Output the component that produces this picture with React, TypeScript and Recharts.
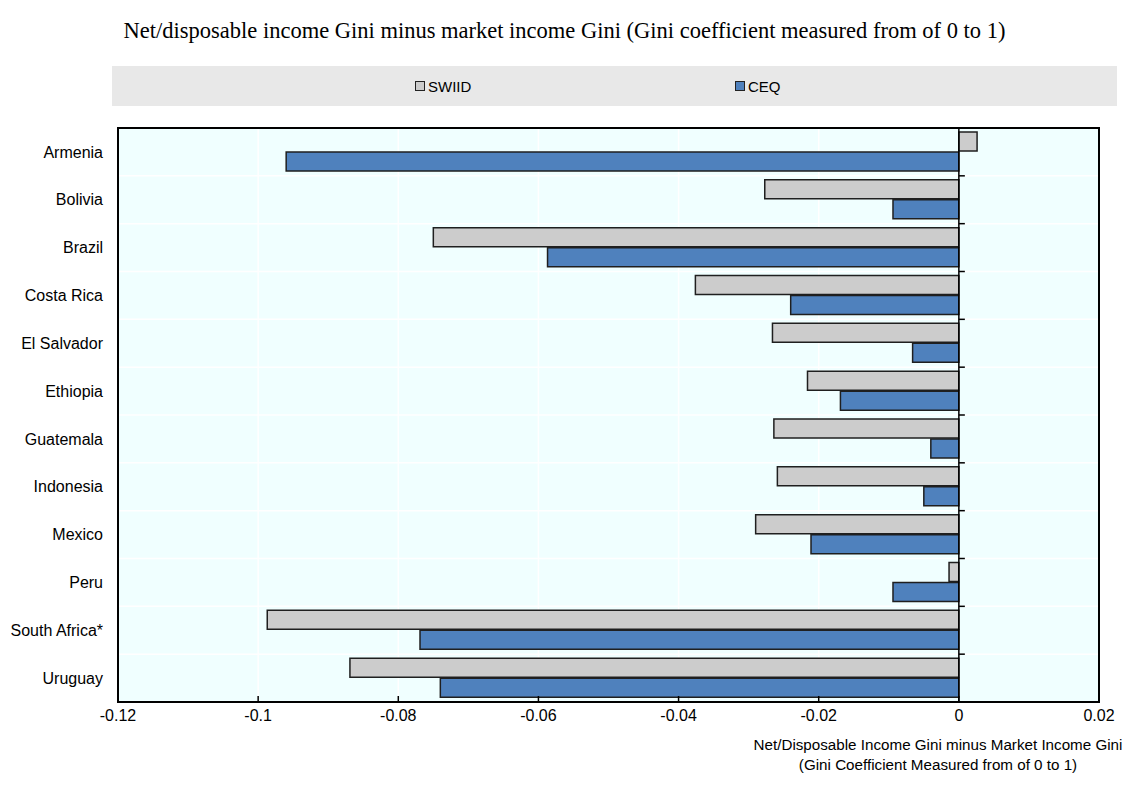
import React from 'react'
import {
  BarChart, Bar, XAxis, YAxis, CartesianGrid, Legend, ReferenceLine, ReferenceArea,
} from 'recharts'

// ── Data ────────────────────────────────────────────────────────────────────
const countries = [
  'Armenia', 'Bolivia', 'Brazil', 'Costa Rica', 'El Salvador', 'Ethiopia',
  'Guatemala', 'Indonesia', 'Mexico', 'Peru', 'South Africa*', 'Uruguay',
]
const swiid = [
  0.0026, -0.0277, -0.075, -0.0376, -0.0266, -0.0216,
  -0.0264, -0.0259, -0.029, -0.0014, -0.0987, -0.0869,
]
const ceq = [
  -0.096, -0.0094, -0.0587, -0.024, -0.0066, -0.0169,
  -0.004, -0.005, -0.0211, -0.0094, -0.0769, -0.074,
]
const xTicks = [-0.12, -0.1, -0.08, -0.06, -0.04, -0.02, 0, 0.02]

const SERIES = [
  { key: 'SWIID', color: '#cccccc', values: swiid },
  { key: 'CEQ',   color: '#4f81bd', values: ceq },
] as const

const FONT = "'Liberation Sans', Arial, sans-serif"
const W = 1123
const H = 785

const chartData = countries.map((name, i) => ({
  name,
  SWIID: swiid[i],
  CEQ: ceq[i],
}))

// ── Legend in a grey strip ──────────────────────────────────────────────────
function StripLegend() {
  const lefts = [303, 623]
  return (
    <div style={{
      position: 'relative', width: 1005, height: 40, background: '#e8e8e8',
      fontFamily: FONT, fontSize: 15, color: '#000',
    }}>
      {SERIES.map((s, i) => (
        <div key={s.key} style={{
          position: 'absolute', left: lefts[i], top: 0, height: 40,
          display: 'flex', alignItems: 'center', gap: 3,
        }}>
          <span style={{
            width: 8, height: 8, background: s.color, border: '1px solid #222',
            display: 'inline-block',
          }} />
          <span>{s.key}</span>
        </div>
      ))}
    </div>
  )
}

// ── Zero line with ticks at category boundaries ─────────────────────────────
function ZeroLine(props: any) {
  const { x1, y1, x2, y2 } = props
  const n = countries.length
  const step = Math.abs(y2 - y1) / n
  const y0 = Math.min(y1, y2)
  return (
    <g>
      <line x1={x1} y1={y1} x2={x2} y2={y2} stroke="#000" strokeWidth={1.5} />
      {Array.from({ length: n }, (_, i) => (
        <line key={i} x1={x1} x2={x1 + 6} y1={y0 + i * step} y2={y0 + i * step}
          stroke="#000" strokeWidth={1.5} />
      ))}
    </g>
  )
}

function AxisTitle(props: any) {
  const { viewBox } = props
  const cx = viewBox.x + viewBox.width - 161
  return (
    <g fontFamily={FONT} fontSize={15.2} fill="#000">
      <text x={cx} y={viewBox.y + 48} textAnchor="middle">
        Net/Disposable Income Gini minus Market Income Gini
      </text>
      <text x={cx} y={viewBox.y + 68} textAnchor="middle">
        (Gini Coefficient Measured from of 0 to 1)
      </text>
    </g>
  )
}

export default function App() {
  return (
    <div style={{ position: 'absolute', left: 0, top: 0, width: W, height: H, background: '#fff' }}>
      <div style={{
        position: 'absolute', left: 3, top: 18, width: W, textAlign: 'center', lineHeight: '26px',
        fontFamily: "'Liberation Serif', 'Times New Roman', serif", fontSize: 22.5, color: '#000',
      }}>
        Net/disposable income Gini minus market income Gini (Gini coefficient measured from of 0 to 1)
      </div>
      <BarChart
        width={W}
        height={H}
        data={chartData}
        layout="vertical"
        barCategoryGap={4}
        barGap={1}
        margin={{ top: 88, right: 24, left: 8, bottom: 53 }}
      >
        <CartesianGrid
          fill="#f0ffff"
          stroke="#ffffff"
          strokeWidth={1.5}
          horizontalCoordinatesGenerator={({ offset }: any) =>
            Array.from({ length: countries.length + 1 }, (_, i) =>
              offset.top + (i * offset.height) / countries.length)}
        />
        <XAxis
          type="number"
          domain={[-0.12, 0.02]}
          ticks={xTicks}
          interval={0}
          height={30}
          axisLine={false}
          tickLine={{ stroke: '#000', strokeWidth: 1.5 }}
          tickSize={-6}
          tickMargin={14}
          tick={{ fontFamily: FONT, fontSize: 16, fill: '#000' }}
          label={<AxisTitle />}
        />
        <YAxis
          type="category"
          dataKey="name"
          width={110}
          axisLine={false}
          tickLine={false}
          tickSize={0}
          tickMargin={15}
          interval={0}
          tick={{ fontFamily: FONT, fontSize: 16, fill: '#000' }}
        />
        <Legend verticalAlign="top" content={<StripLegend />}
          wrapperStyle={{ top: 66, left: 112, width: 1005, height: 40 }} />
        {SERIES.map(s => (
          <Bar key={s.key} dataKey={s.key} name={s.key} fill={s.color}
            stroke="#1f1f1f" strokeWidth={1.5} isAnimationActive={false} />
        ))}
        <ReferenceLine x={0} shape={<ZeroLine />} />
        <ReferenceArea x1={-0.12} x2={0.02} fill="none" stroke="#000" strokeWidth={2} />
      </BarChart>
    </div>
  )
}
